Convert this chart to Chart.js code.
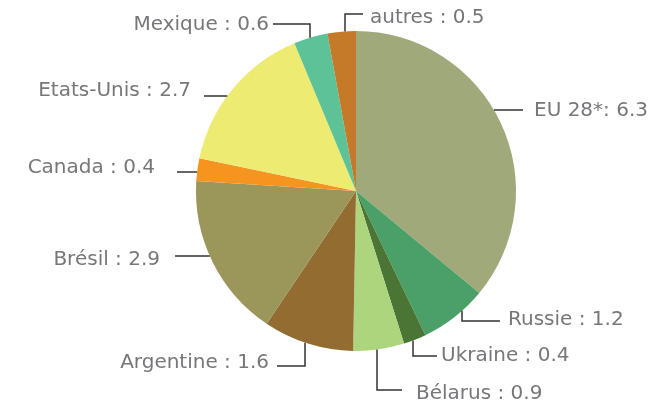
<!DOCTYPE html>
<html>
<head>
<meta charset="utf-8">
<script src="https://cdn.jsdelivr.net/npm/chart.js@4"></script>
<style>
  html, body { margin: 0; padding: 0; background: #fff; }
  #wrap { width: 665px; height: 407px; }
</style>
</head>
<body>
<div id="wrap"><canvas id="pie"></canvas></div>
<script>
// data
const categories = ["EU 28*", "Russie", "Ukraine", "Bélarus", "Argentine", "Brésil", "Canada", "Etats-Unis", "Mexique", "autres"];
const values = [6.3, 1.2, 0.4, 0.9, 1.6, 2.9, 0.4, 2.7, 0.6, 0.5];
const labelTexts = ["EU 28*: 6.3", "Russie : 1.2", "Ukraine : 0.4", "Bélarus : 0.9", "Argentine : 1.6",
  "Brésil : 2.9", "Canada : 0.4", "Etats-Unis : 2.7", "Mexique : 0.6", "autres : 0.5"];
const colors = ["#9fa97a", "#4aa067", "#4a7535", "#acd57e", "#926c30", "#9b9659", "#f5951f", "#eeeb72", "#5dc298", "#c57a2a"];

// label layout: text anchor (baseline), line y, line start x, elbow x (null = straight to the pie)
const labelLayout = [
  { tx: 534, ty: 116, align: "left",  ly: 110, lx: 523, ex: null },
  { tx: 508, ty: 325, align: "left",  ly: 321, lx: 500, ex: 462 },
  { tx: 441, ty: 361, align: "left",  ly: 356, lx: 437, ex: 413 },
  { tx: 416, ty: 399, align: "left",  ly: 390, lx: 402, ex: 377 },
  { tx: 269, ty: 368, align: "right", ly: 366, lx: 277, ex: 305 },
  { tx: 160, ty: 265, align: "right", ly: 256, lx: 175, ex: null },
  { tx: 155, ty: 173, align: "right", ly: 172, lx: 177, ex: null },
  { tx: 191, ty: 96,  align: "right", ly: 96,  lx: 204, ex: null },
  { tx: 269, ty: 30,  align: "right", ly: 24,  lx: 273, ex: 310 },
  { tx: 370, ty: 23,  align: "left",  ly: 14,  lx: 363, ex: 345 }
];

const leaderLabels = {
  id: "leaderLabels",
  afterDraw(chart) {
    const arc = chart.getDatasetMeta(0).data[0];
    const cx = arc.x, cy = arc.y, r = arc.outerRadius;
    const ctx = chart.ctx;
    ctx.save();
    ctx.strokeStyle = "#333";
    ctx.lineWidth = 1.5;
    ctx.font = "20px 'DejaVu Sans'";
    ctx.fillStyle = "#77777b";
    ctx.textBaseline = "alphabetic";
    labelLayout.forEach((p, i) => {
      ctx.beginPath();
      ctx.moveTo(p.lx, p.ly);
      if (p.ex === null) {
        const dx = Math.sqrt(Math.max(0, r * r - (p.ly - cy) * (p.ly - cy)));
        ctx.lineTo(p.lx > cx ? cx + dx : cx - dx, p.ly);
      } else {
        const dy = Math.sqrt(Math.max(0, r * r - (p.ex - cx) * (p.ex - cx)));
        ctx.lineTo(p.ex, p.ly);
        ctx.lineTo(p.ex, p.ly > cy ? cy + dy : cy - dy);
      }
      ctx.stroke();
      ctx.textAlign = p.align;
      ctx.fillText(labelTexts[i], p.tx, p.ty);
    });
    ctx.restore();
  }
};

new Chart(document.getElementById("pie"), {
  type: "pie",
  data: {
    labels: categories,
    datasets: [{
      data: values,
      backgroundColor: colors,
      borderWidth: 0
    }]
  },
  options: {
    responsive: true,
    maintainAspectRatio: false,
    animation: false,
    layout: { padding: { left: 196, right: 149, top: 31, bottom: 56 } },
    plugins: {
      legend: { display: false },
      tooltip: { enabled: false }
    }
  },
  plugins: [leaderLabels]
});
</script>
</body>
</html>
